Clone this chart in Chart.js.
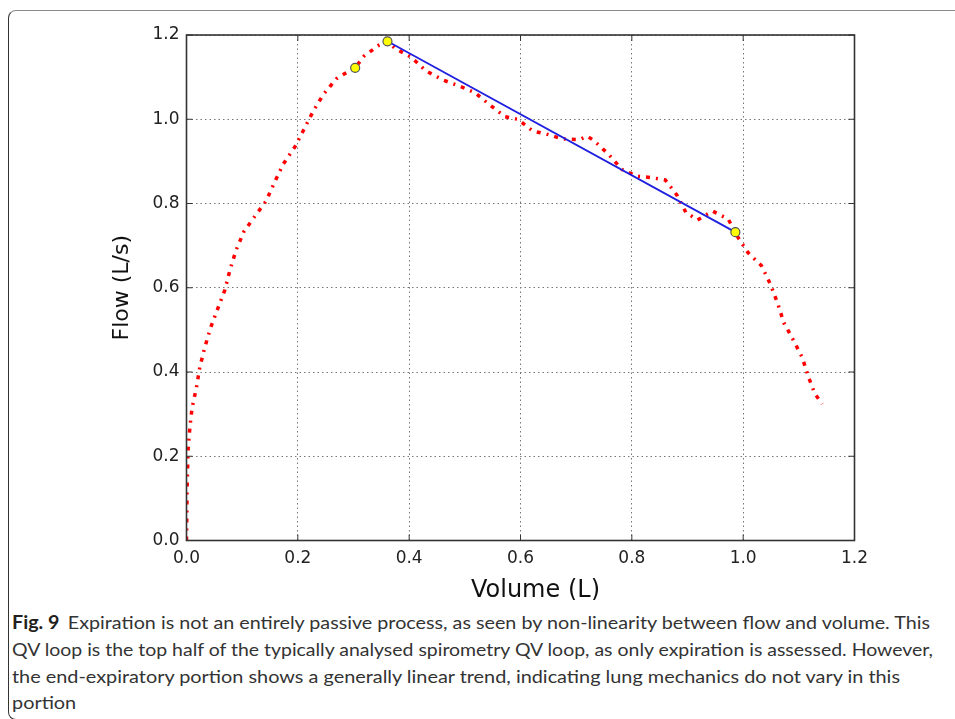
<!DOCTYPE html>
<html>
<head>
<meta charset="utf-8">
<script src="https://cdn.jsdelivr.net/npm/chart.js@4/dist/chart.umd.min.js"></script>
<style>
  html, body { margin: 0; padding: 0; background: #fff; }
  body { width: 955px; height: 719px; position: relative; overflow: hidden; }
  #box {
    position: absolute; left: 8px; top: 10px; width: 1000px; height: 708px;
    border-top: 1.5px solid #8a8a8a; border-left: 1.5px solid #333; border-bottom: 1.5px solid #333;
    border-radius: 8px;
  }
  #qv { position: absolute; left: 0; top: 0; }
  .cap {
    position: absolute; left: 12px; white-space: nowrap; transform-origin: 0 0;
    font-family: Lato, "Open Sans", sans-serif; font-size: 18px; color: #333; line-height: 1;
  }
  .cap b { margin-right: 3px; color: #231f20; }
</style>
</head>
<body>
<div id="box"></div>
<canvas id="qv" width="955" height="600"></canvas>
<div class="cap" data-w="918" style="top:613px"><b>Fig. 9</b> Expiration is not an entirely passive process, as seen by non-linearity between flow and volume. This</div>
<div class="cap" data-w="921" style="top:640px">QV loop is the top half of the typically analysed spirometry QV loop, as only expiration is assessed. However,</div>
<div class="cap" data-w="888" style="top:667px">the end-expiratory portion shows a generally linear trend, indicating lung mechanics do not vary in this</div>
<div class="cap" style="top:693px">portion</div>
<script>
  // QV loop (volume in L, flow in L/s)
  const volume = [0.000, 0.0005, 0.001, 0.002, 0.003, 0.006, 0.010, 0.018, 0.024, 0.033,
    0.043, 0.056, 0.069, 0.078, 0.089, 0.103, 0.123, 0.143, 0.158, 0.174,
    0.195, 0.211, 0.228, 0.246, 0.269, 0.295, 0.303, 0.319, 0.346, 0.361,
    0.375, 0.404, 0.430, 0.461, 0.490, 0.518, 0.545, 0.572, 0.595, 0.622,
    0.646, 0.676, 0.706, 0.720, 0.733, 0.758, 0.782, 0.809, 0.837, 0.860,
    0.881, 0.897, 0.918, 0.945, 0.973, 0.986, 0.991, 1.009, 1.033, 1.049,
    1.062, 1.073, 1.090, 1.106, 1.117, 1.129, 1.142];
  const flow = [0.000, 0.06, 0.12, 0.17, 0.219, 0.267, 0.315, 0.364, 0.412, 0.459,
    0.504, 0.550, 0.595, 0.642, 0.689, 0.733, 0.770, 0.806, 0.850, 0.894,
    0.935, 0.976, 1.020, 1.059, 1.096, 1.117, 1.122, 1.150, 1.176, 1.185,
    1.168, 1.147, 1.115, 1.093, 1.079, 1.063, 1.034, 1.006, 1.000, 0.972,
    0.965, 0.953, 0.952, 0.960, 0.948, 0.917, 0.881, 0.865, 0.861, 0.856,
    0.820, 0.779, 0.761, 0.782, 0.763, 0.732, 0.719, 0.683, 0.652, 0.608,
    0.563, 0.517, 0.476, 0.435, 0.389, 0.348, 0.324];

  // linear fit over the end-expiratory portion
  const fitVolume = [0.361, 0.986];
  const fitFlow = [1.185, 0.732];

  // highlighted points
  const markVolume = [0.303, 0.361, 0.986];
  const markFlow = [1.122, 1.185, 0.732];

  const axisMin = 0, axisMax = 1.2, axisStep = 0.2;
  const xTitle = "Volume (L)";
  const yTitle = "Flow (L/s)";

  const pts = (xs, ys) => xs.map((x, i) => ({ x: x, y: ys[i] }));
  const tickFont = { family: "DejaVu Sans", size: 17 };

  // plot frame, inward ticks on all sides, and the x title
  const framePlugin = {
    id: "frame",
    afterDraw(chart) {
      const { ctx, chartArea: a, scales } = chart;
      ctx.save();
      ctx.strokeStyle = "#333";
      ctx.lineWidth = 1;
      const tl = 6;
      ctx.beginPath();
      scales.x.ticks.forEach((t) => {
        const px = scales.x.getPixelForValue(t.value);
        ctx.moveTo(px, a.bottom); ctx.lineTo(px, a.bottom - tl);
        ctx.moveTo(px, a.top); ctx.lineTo(px, a.top + tl);
      });
      scales.y.ticks.forEach((t) => {
        const py = scales.y.getPixelForValue(t.value);
        ctx.moveTo(a.left, py); ctx.lineTo(a.left + tl, py);
        ctx.moveTo(a.right, py); ctx.lineTo(a.right - tl, py);
      });
      ctx.stroke();
      ctx.lineWidth = 1.6;
      ctx.strokeRect(a.left, a.top, a.right - a.left, a.bottom - a.top);

      ctx.fillStyle = "#111";
      ctx.font = "24px 'DejaVu Sans'";
      ctx.textAlign = "center";
      ctx.textBaseline = "alphabetic";
      ctx.fillText(xTitle, (a.left + a.right) / 2 + 15, 597);
      ctx.restore();
    },
  };

  new Chart(document.getElementById("qv"), {
    type: "scatter",
    data: {
      datasets: [
        {
          data: pts(markVolume, markFlow),
          showLine: false,
          pointRadius: 4.5,
          pointBackgroundColor: "#ffff00",
          pointBorderColor: "#555",
          pointBorderWidth: 1.2,
          order: 0,
        },
        {
          data: pts(fitVolume, fitFlow),
          showLine: true,
          borderColor: "#1f1fe0",
          borderWidth: 1.8,
          pointRadius: 0,
          order: 1,
        },
        {
          data: pts(volume, flow),
          showLine: true,
          borderColor: "#ff0000",
          borderWidth: 3.5,
          borderDash: [4, 6, 2, 6],
          pointRadius: 0,
          order: 2,
        },
      ],
    },
    options: {
      responsive: false,
      animation: false,
      devicePixelRatio: 1,
      layout: { padding: { left: 109, right: 100.5, top: 35, bottom: 19.5 } },
      plugins: { legend: { display: false }, tooltip: { enabled: false } },
      scales: {
        x: {
          type: "linear",
          min: axisMin, max: axisMax,
          afterFit: (s) => { s.height = 40; },
          ticks: {
            stepSize: axisStep, padding: 8, color: "#222", font: tickFont,
            callback: (v) => v.toFixed(1),
          },
          grid: { color: "#777", lineWidth: 1, drawTicks: false },
          border: { display: false, dash: [1.5, 3] },
        },
        y: {
          type: "linear",
          min: axisMin, max: axisMax,
          afterFit: (s) => { s.width = 77.5; },
          ticks: {
            stepSize: axisStep, padding: 7, color: "#222", font: tickFont,
            callback: (v) => v.toFixed(1),
          },
          grid: { color: "#777", lineWidth: 1, drawTicks: false },
          border: { display: false, dash: [1.5, 3] },
          title: {
            display: true, text: yTitle, color: "#111",
            font: { family: "DejaVu Sans", size: 22 }, padding: 0,
          },
        },
      },
    },
    plugins: [framePlugin],
  });

  // squeeze each caption line to the width of the printed one
  const caps = document.querySelectorAll(".cap");
  let k = 1;
  caps.forEach((c) => {
    if (c.dataset.w) k = parseFloat(c.dataset.w) / c.getBoundingClientRect().width;
    c.style.transform = `scaleX(${k})`;
  });
</script>
</body>
</html>
